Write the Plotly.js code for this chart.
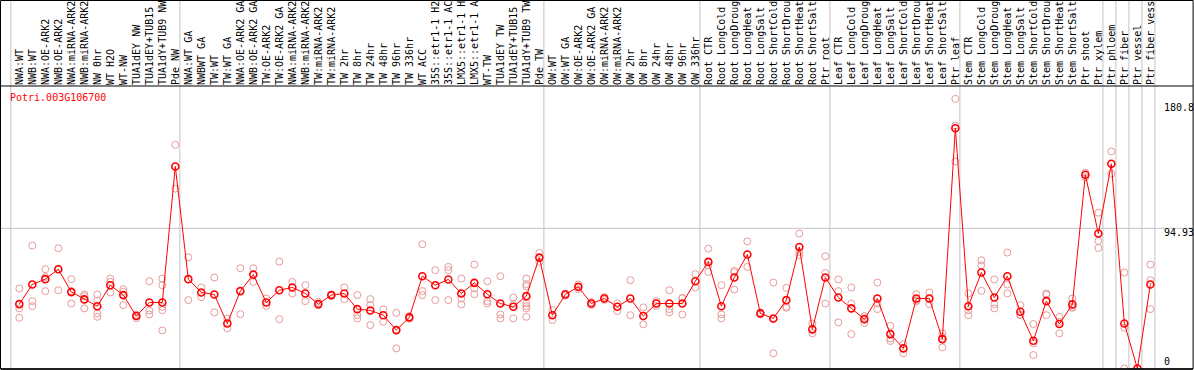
<!DOCTYPE html>
<html>
<head>
<meta charset="utf-8">
<script src="https://cdn.plot.ly/plotly-3.0.1.min.js"></script>
<style>
  html, body { margin: 0; padding: 0; background: #ffffff; }
  #chart { width: 1194px; height: 370px; }
</style>
</head>
<body>
<div id="chart"></div>
<script>
// ---- data ----
const geneName = "Potri.003G106700";

const sampleLabels = [
  "NWA:WT","NWB:WT","NWA:OE-ARK2","NWB:OE-ARK2","NWA:miRNA-ARK2","NWB:miRNA-ARK2","NW 0hr","WT H2O","WT-NW","TUA1dEY NW","TUA1dEY+TUB15","TUA1dY+TUB9 NW","Pde NW",
  "NWA:WT GA","NWBWT GA","TW:WT","TW:WT GA","NWA:OE-ARK2 GA","NWB:OE-ARK2 GA","TW:OE-ARK2","TW:OE-ARK2 GA","NWA:miRNA-ARK2","NWB:miRNA-ARK2","TW:miRNA-ARK2","TW:miRNA-ARK2","TW 2hr","TW 8hr","TW 24hr","TW 48hr","TW 96hr","TW 336hr","WT ACC","35S::etr1-1 H2","35S::etr1-1 AC","LMX5::etr1-1 H","LMX5::etr1-1 A","WT-TW","TUA1dEY TW","TUA1dEY+TUB15","TUA1dY+TUB9 TW","Pde TW",
  "OW:WT","OW:WT GA","OW:OE-ARK2","OW:OE-ARK2 GA","OW:miRNA-ARK2","OW:miRNA-ARK2","OW 2hr","OW 8hr","OW 24hr","OW 48hr","OW 96hr","OW 336hr",
  "Root CTR","Root LongCold","Root LongDroug","Root LongHeat","Root LongSalt","Root ShortCold","Root ShortDrou","Root ShortHeat","Root ShortSalt","Ptr root",
  "Leaf CTR","Leaf LongCold","Leaf LongDroug","Leaf LongHeat","Leaf LongSalt","Leaf ShortCold","Leaf ShortDrou","Leaf ShortHeat","Leaf ShortSalt","Ptr leaf",
  "Stem CTR","Stem LongCold","Stem LongDroug","Stem LongHeat","Stem LongSalt","Stem ShortCold","Stem ShortDrou","Stem ShortHeat","Stem ShortSalt","Ptr shoot","Ptr xylem",
  "Ptr phloem","Ptr fiber","Ptr vessel","Ptr fiber vess"
];

// number of samples in each experiment group (separated by grey lines)
const groupSizes = [13, 28, 12, 10, 10, 11, 1, 1, 1, 1];

const meanValues = [
  43.6,56.9,60.5,67.2,51.9,46.8,42.2,56.4,49.7,35.5,44.7,44.7,136.8,
  60.5,51.5,50.1,30.5,52.4,63.6,44.7,53.0,54.9,50.8,43.6,49.7,50.8,40.2,39.3,36.1,26.0,34.6,62.5,56.4,60.3,50.8,58.0,50.3,44.0,41.8,49.0,75.1,
  36.1,50.1,55.3,44.0,47.4,41.8,47.4,35.5,44.0,44.0,44.0,59.1,
  72.2,42.2,61.6,77.2,37.3,33.9,46.3,82.3,26.5,61.6,
  48.1,40.7,33.4,47.4,23.3,13.6,47.4,47.4,19.9,162.7,
  42.2,65.0,48.1,62.5,38.4,18.8,45.6,30.1,43.4,131.2,91.4,
  138.6,30.5,0,56.9
];

const replicateValues = [
  [54.2,40.7,34.3],[83.2,45.6,42.2],[67.2,62.0,52.4],[81.4,67.2,53.0],[60.5,51.2,44.0],
  [50.1,49.0,40.7],[50.1,46.0,37.3,35.0],[60.9,58.6,51.5],[53.7,51.9,42.9],[36.5,35.5,34.0],
  [59.1,39.3,36.6],[60.9,56.4,41.8,39.5,25.8],[151.5,121.8],
  [75.3,46.3],[54.9,48.3],[61.6,38.0],[33.9,27.2],[67.9,36.8],[67.9,58.6],[47.4,42.4],
  [72.4,33.4],[58.6,50.8],[56.4,45.6],[45.1,42.9],[50.1,49.2],[54.9,47.0],[49.7,36.1,33.9],
  [47.0,42.9,29.4],[40.0,31.6],[37.7,13.6],[35.5,33.7],[84.1,52.4,49.7],[66.6,46.3],
  [68.8,66.6,46.3],[60.9,47.4,43.4],[70.4,54.2,50.3],[59.1,45.6,44.0],[62.5,36.6,33.9],
  [48.1,43.5,33.9],[60.9,57.1,55.7,44.0,42.2,40.7,35.0],[78.2,72.2],
  [39.5,32.8],[50.8,49.4],[56.9,53.7],[45.0,43.0],[48.3,46.5],[44.0,38.9],[59.8,36.1],
  [41.4,29.9],[45.6,42.4],[53.0,40.2,38.0],[47.8,47.5,36.6],[63.9,54.9],
  [81.2,69.9,65.4],[56.4,36.6,33.9],[66.1,65.2,53.5],[86.1,68.8],[38.0,36.6],
  [58.2,33.5,10.3],[54.6,41.8,41.1],[91.4,78.9,76.7],[30.5,23.8],[76.0,64.7,44.0],
  [60.3,52.4,31.2],[54.9,44.0,23.3],[35.5,34.1,30.7],[58.2,44.0,40.2],[28.9,20.4,18.6],
  [16.4,10.3],[50.3,46.3,45.6],[51.5,47.0,43.6],[23.8,21.6,14.3],[182.6,164.5,140.2],
  [50.8,39.5,36.1],[73.3,69.9,52.6],[60.3,43.6,40.7],[78.5,56.9,50.8],[42.9,36.5,36.1],
  [30.1,17.0,9.1],[50.8,50.0,36.1],[35.0,31.5,23.8],[47.4,41.8,41.1],[132.6,129.6],
  [105.5,86.4,81.6],
  [147.0,131.9],[65.0,27.6,0],[0,0],[70.4,59.8,40.2]
];

const axisMarks = [180.8, 94.93, 0];

// ---- build traces ----
const idx = sampleLabels.map((_, i) => i);
const repX = [], repY = [];
replicateValues.forEach((arr, i) => arr.forEach(v => { repX.push(i); repY.push(v); }));

const traces = [
  {
    x: repX, y: repY, type: 'scatter', mode: 'markers',
    marker: { symbol: 'circle-open', size: 7, color: '#e89a9a', line: { width: 1, color: '#e89a9a' } },
    hoverinfo: 'skip', cliponaxis: true
  },
  {
    x: idx, y: meanValues, type: 'scatter', mode: 'lines+markers',
    line: { color: '#ff0000', width: 1 },
    marker: { symbol: 'circle-open', size: 7, color: '#ff0000', line: { width: 1.6, color: '#ff0000' } },
    hoverinfo: 'skip', cliponaxis: true
  }
];

// ---- shapes ----
const plotTop = 86, plotBottom = 369, plotH = plotBottom - plotTop;
const topPaper = (plotBottom - 0.5) / plotH;
const shapes = [];
let start = 0;
const sepStarts = [0];
groupSizes.forEach(n => { start += n; sepStarts.push(start); });
sepStarts.forEach(k => {
  shapes.push({ type: 'line', xref: 'x', yref: 'paper', x0: k - 0.65, x1: k - 0.65, y0: 0, y1: topPaper,
    line: { color: '#c4c4c4', width: 1 }, layer: 'below' });
});
shapes.push({ type: 'line', xref: 'paper', yref: 'y', x0: 0, x1: 1, y0: axisMarks[1], y1: axisMarks[1],
  line: { color: '#c4c4c4', width: 1 }, layer: 'below' });
// frame
shapes.push({ type: 'rect', xref: 'paper', yref: 'paper', x0: -0.0004, x1: 1.0001, y0: 0, y1: topPaper,
  line: { color: '#000000', width: 1 }, fillcolor: 'rgba(0,0,0,0)' });
shapes.push({ type: 'line', xref: 'paper', yref: 'paper', x0: 0, x1: 1, y0: 1, y1: 1,
  line: { color: '#000000', width: 1 } });
shapes.push({ type: 'line', xref: 'paper', yref: 'paper', x0: 0, x1: 1, y0: 0, y1: 0,
  line: { color: '#000000', width: 1.5 } });

// ---- annotations ----
const monoFont = 'DejaVu Sans Mono, monospace';
const annotations = [
  { xref: 'paper', yref: 'paper', x: 0.0055, y: (plotBottom - 97.3) / plotH, xanchor: 'left', yanchor: 'middle',
    text: geneName, showarrow: false, font: { family: monoFont, size: 10, color: '#ff0000' } }
];
const markPix = [107.7, 232, 361.7];
axisMarks.forEach((m, j) => {
  annotations.push({ xref: 'paper', yref: 'paper', x: (1162 - 1) / 1192, y: (plotBottom - markPix[j]) / plotH,
    xanchor: 'left', yanchor: 'middle', text: String(m), showarrow: false,
    font: { family: monoFont, size: 10, color: '#000000' } });
});

const layout = {
  width: 1194, height: 370,
  margin: { l: 1, r: 1, t: plotTop, b: 370 - plotBottom, pad: 0 },
  paper_bgcolor: '#ffffff', plot_bgcolor: '#ffffff',
  showlegend: false, hovermode: false,
  xaxis: {
    range: [-1.408, 90.28], side: 'top', tickmode: 'array', tickvals: idx, ticktext: sampleLabels,
    tickangle: -90, ticks: '', showgrid: false, zeroline: false, showline: false,
    tickfont: { family: monoFont, size: 10, color: '#000000' }, automargin: false, fixedrange: true
  },
  yaxis: {
    range: [-0.34, 191.3], showticklabels: false, showgrid: false, zeroline: false, showline: false,
    ticks: '', automargin: false, fixedrange: true
  },
  shapes: shapes,
  annotations: annotations
};

Plotly.newPlot('chart', traces, layout, { displayModeBar: false, staticPlot: true });
</script>
</body>
</html>
